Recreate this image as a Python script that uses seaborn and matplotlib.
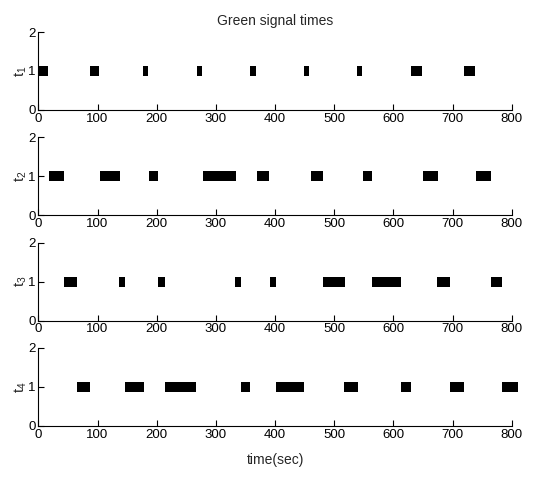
import matplotlib
matplotlib.use('Agg')
import matplotlib.pyplot as plt
import numpy as np
import pandas as pd
import seaborn as sns

# Green intervals (start, end in seconds), one list per signal
t1_start = [0, 88, 177, 268, 358, 449, 539, 629, 719]
t1_end = [17, 103, 185, 277, 367, 457, 547, 649, 738]

t2_start = [18, 104, 187, 278, 369, 460, 549, 650, 739]
t2_end = [44, 138, 202, 334, 390, 481, 563, 675, 764]

t3_start = [43, 137, 203, 333, 391, 481, 563, 674, 764]
t3_end = [65, 146, 214, 343, 401, 518, 613, 695, 784]

t4_start = [65, 146, 214, 343, 401, 516, 613, 695, 784]
t4_end = [88, 179, 267, 358, 448, 540, 629, 719, 810]

signals = ['t1', 't2', 't3', 't4']
ylabels = ['$t_1$', '$t_2$', '$t_3$', '$t_4$']
x_ticks = [0, 100, 200, 300, 400, 500, 600, 700, 800]
y_ticks = [0, 1, 2]

rows = []
for name, st, en in zip(signals, [t1_start, t2_start, t3_start, t4_start],
                        [t1_end, t2_end, t3_end, t4_end]):
    for s, e in zip(st, en):
        rows.append({'signal': name, 'start': s, 'end': e})
df = pd.DataFrame(rows)

sns.set_style('ticks')
plt.rcParams['font.family'] = ['Liberation Sans', 'DejaVu Sans']
plt.rcParams['mathtext.fontset'] = 'custom'
plt.rcParams['mathtext.rm'] = 'Liberation Sans'
plt.rcParams['mathtext.it'] = 'Liberation Sans'

fig, axes = plt.subplots(4, 1, figsize=(5.36, 4.78), dpi=100)
fig.subplots_adjust(left=0.0715, right=0.955, top=0.933, bottom=0.109, hspace=0.352)

for ax, name, lab in zip(axes, signals, ylabels):
    d = df[df['signal'] == name]
    ax.hlines(np.ones(len(d)), d['start'], d['end'], color='black',
              linewidth=7.2, capstyle='butt', clip_on=False)
    ax.set_xlim(0, 800)
    ax.set_ylim(0, 2)
    ax.set_xticks(x_ticks)
    ax.set_yticks(y_ticks)
    ax.tick_params(direction='in', length=4, labelsize=9.5, pad=2,
                   colors='black', width=0.8)
    ax.set_ylabel(lab, fontsize=10.5, labelpad=-1)
    sns.despine(ax=ax)
    for sp in ['left', 'bottom']:
        ax.spines[sp].set_color('black')
        ax.spines[sp].set_linewidth(0.8)

axes[0].set_title('Green signal times', fontsize=10, pad=5)
axes[-1].set_xlabel('time(sec)', fontsize=10, labelpad=9)

fig.savefig('out.png', dpi=100, facecolor='white')
